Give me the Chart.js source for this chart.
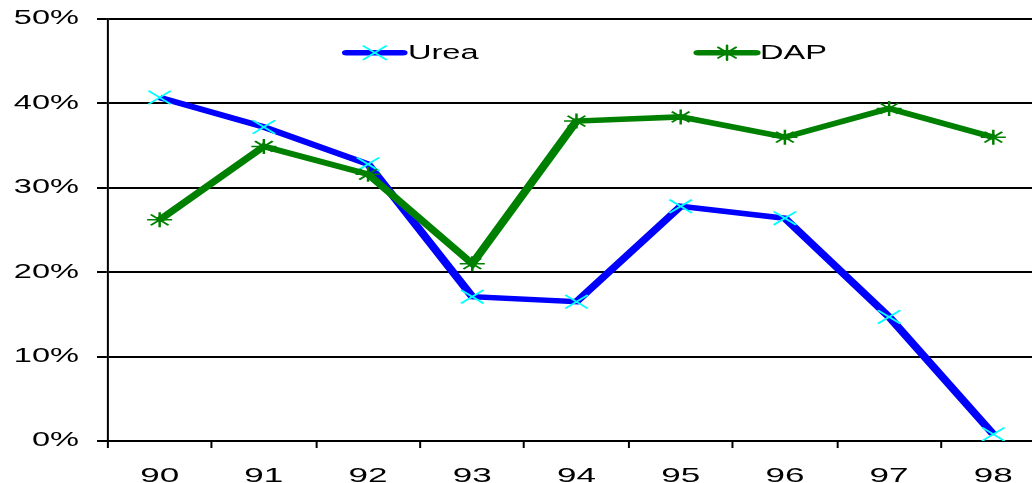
<!DOCTYPE html>
<html>
<head>
<meta charset="utf-8">
<title>Urea and DAP, 1990-1998</title>
<script src="https://cdn.jsdelivr.net/npm/chart.js@4/dist/chart.umd.min.js"></script>
<style>
  html, body { margin: 0; padding: 0; background: #ffffff; overflow: hidden; }
  #wrap { width: 1032px; height: 483px; overflow: hidden; }
</style>
</head>
<body>
<div id="wrap"><canvas id="chart" width="637" height="483"></canvas></div>
<script>
// Years on the category axis
const years = ['90', '91', '92', '93', '94', '95', '96', '97', '98'];
// Yearly shares in percent
const ureaValues = [40.7, 37.2, 32.8, 17.1, 16.5, 27.8, 26.4, 14.7, 0.8];
const dapValues  = [26.2, 34.9, 31.6, 21.0, 37.9, 38.4, 36.0, 39.4, 36.0];
// Value-axis ticks
const yTickValues = [0, 10, 20, 30, 40, 50];
const seriesNames = ['Urea', 'DAP'];

// Horizontal stretch applied to everything the chart draws
const SX = 1.67;
const FONT = "'Liberation Sans', Arial, sans-serif";

// Widens the backing store and applies the horizontal stretch before each draw
const stretchPlugin = {
  id: 'stretch',
  beforeDraw(chart) {
    const c = chart.canvas;
    const w = Math.round(chart.width * SX);
    if (c.width !== w) {
      c.width = w;
      c.style.width = w + 'px';
    }
    chart.ctx.setTransform(SX, 0, 0, 1, 0, 0);
  }
};

function drawMarker(ctx, style, x, y, r, color, width) {
  ctx.save();
  ctx.strokeStyle = color;
  ctx.lineWidth = width;
  ctx.beginPath();
  const d = r * Math.SQRT1_2;
  ctx.moveTo(x - d, y - d); ctx.lineTo(x + d, y + d);
  ctx.moveTo(x - d, y + d); ctx.lineTo(x + d, y - d);
  if (style === 'star') {
    ctx.moveTo(x, y - r); ctx.lineTo(x, y + r);
  }
  ctx.stroke();
  ctx.restore();
}

// Legend drawn inside the plot area: line sample, marker, then the name
const insideLegend = {
  id: 'insideLegend',
  afterDraw(chart) {
    const ctx = chart.ctx;
    const y = 52.7;
    const items = [
      { ds: chart.data.datasets[0], x0: 207.5, x1: 241.3, tx: 244.3 },
      { ds: chart.data.datasets[1], x0: 418.0, x1: 452.7, tx: 455.1 }
    ];
    items.forEach(it => {
      ctx.save();
      ctx.strokeStyle = it.ds.borderColor;
      ctx.lineWidth = 5.5;
      ctx.lineCap = 'round';
      ctx.beginPath();
      ctx.moveTo(it.x0, y);
      ctx.lineTo(it.x1, y);
      ctx.stroke();
      drawMarker(ctx, it.ds.pointStyle === 'star' ? 'star' : 'crossRot',
        (it.x0 + it.x1) / 2, y, it.ds.pointRadius, it.ds.pointBorderColor, 1.5);
      ctx.fillStyle = '#000000';
      ctx.font = '19.5px ' + FONT;
      ctx.textAlign = 'left';
      ctx.textBaseline = 'middle';
      ctx.fillText(it.ds.label, it.tx, y + 1);
      ctx.restore();
    });
  }
};

new Chart(document.getElementById('chart'), {
  type: 'line',
  data: {
    labels: years,
    datasets: [
      {
        label: seriesNames[0],
        data: ureaValues,
        borderColor: '#0000ff',
        borderWidth: 5.5,
        pointStyle: 'crossRot',
        pointRadius: 9.5,
        pointBorderColor: '#00ffff',
        pointBorderWidth: 1.5,
        pointBackgroundColor: '#00ffff',
        tension: 0,
        order: 1
      },
      {
        label: seriesNames[1],
        data: dapValues,
        borderColor: '#008000',
        borderWidth: 5.5,
        pointStyle: 'star',
        pointRadius: 7.5,
        pointBorderColor: '#008000',
        pointBorderWidth: 1.5,
        pointBackgroundColor: '#008000',
        tension: 0,
        order: 0
      }
    ]
  },
  options: {
    responsive: false,
    animation: false,
    devicePixelRatio: 1,
    events: [],
    layout: { padding: { top: 19, right: 0, left: 0, bottom: 0 } },
    plugins: {
      legend: { display: false },
      tooltip: { enabled: false }
    },
    scales: {
      x: {
        type: 'category',
        offset: true,
        afterFit(scale) { scale.height = 42; },
        grid: {
          offset: true,
          drawOnChartArea: false,
          drawTicks: true,
          tickLength: 7,
          color: '#000000',
          lineWidth: 1.2
        },
        border: { display: true, color: '#000000', width: 2 },
        ticks: {
          color: '#000000',
          font: { family: FONT, size: 21 },
          padding: 16,
          maxRotation: 0,
          autoSkip: false
        }
      },
      y: {
        min: yTickValues[0],
        max: yTickValues[yTickValues.length - 1],
        afterFit(scale) {
          scale.width = 64.4;
          scale.paddingTop = 0;
          scale.paddingBottom = 0;
        },
        afterBuildTicks(scale) { scale.ticks = yTickValues.map(v => ({ value: v })); },
        grid: {
          color: '#000000',
          lineWidth: 2,
          drawTicks: true,
          tickLength: 6.3
        },
        border: { display: true, color: '#000000', width: 1.2 },
        ticks: {
          color: '#000000',
          font: { family: FONT, size: 19.5 },
          padding: 10.8,
          callback: v => v + '%'
        }
      }
    }
  },
  plugins: [stretchPlugin, insideLegend]
});
</script>
</body>
</html>
